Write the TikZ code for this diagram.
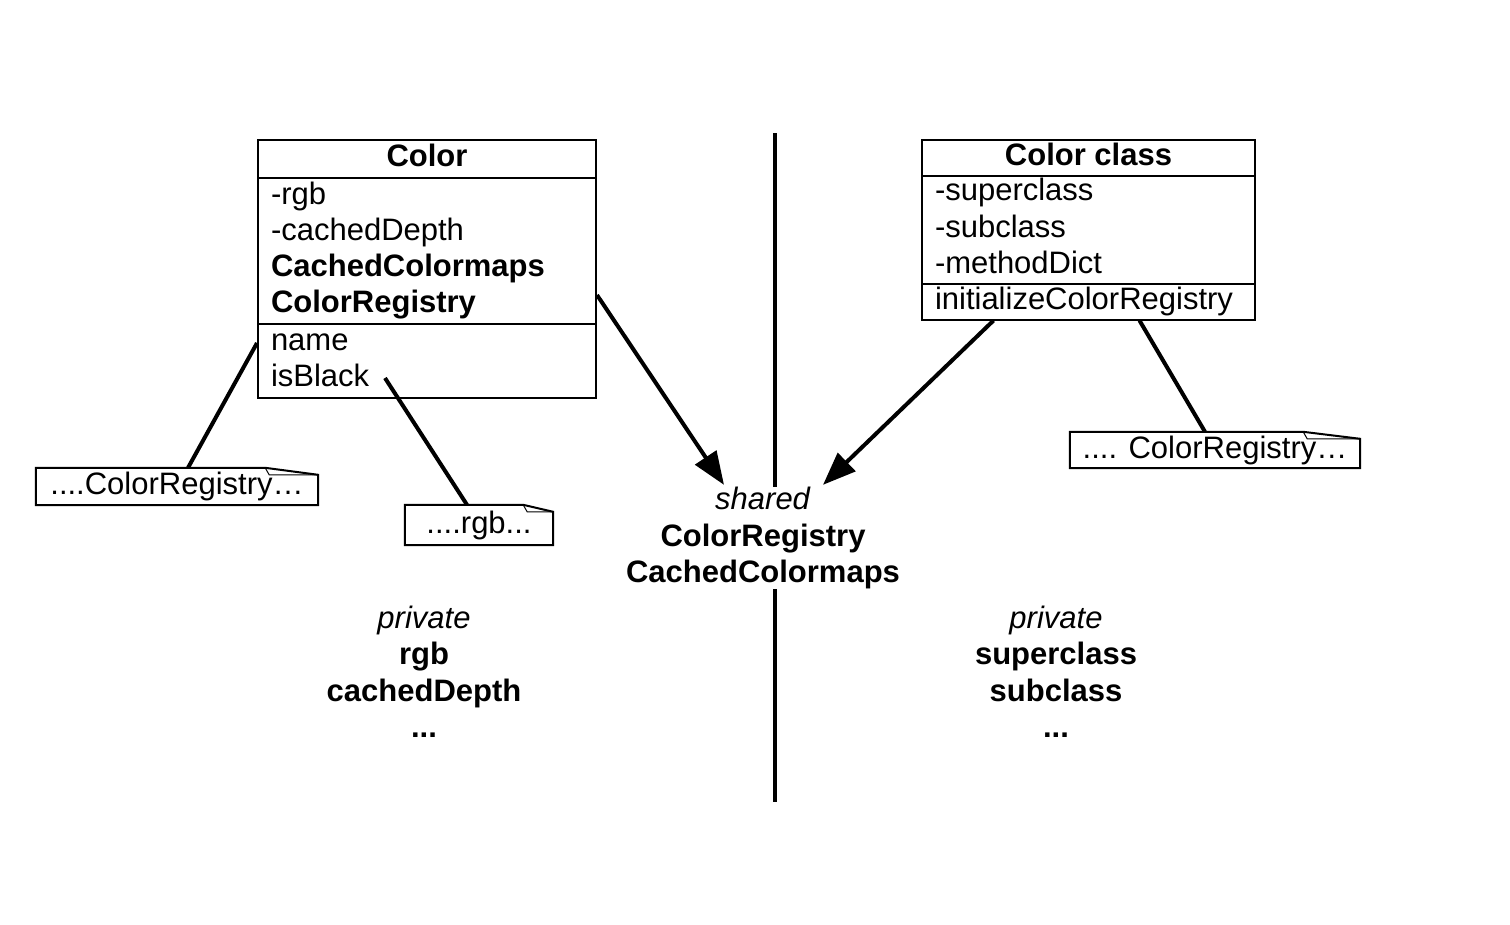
\documentclass[tikz,border=0pt]{standalone}
\usepackage{fontspec}
\setmainfont{Liberation Sans}
\usetikzlibrary{arrows.meta, shapes.multipart}

\begin{document}
\begin{tikzpicture}[
            x = 1pt, y = -1pt,
            > = {Triangle[length=33pt, width=25pt]},
            every node/.style = {font=\fontsize{31}{36.5}\selectfont},
            link/.style = {line width=4pt},
        ]

        \tikzstyle{umlclass}=[
            rectangle split,
            rectangle split parts = 3,
            rectangle split part align = {center, left, left},
            draw,
            line width = 2pt,
            align = left,
            inner xsep = 13pt,
            inner ysep = 0pt,
            font = \fontsize{31}{36}\selectfont
        ]
        \tikzstyle{note}=[
            minimum height = 37pt,
            inner sep = 0pt
        ]
        \tikzstyle{label}=[
            align = center,
            inner sep = 0pt
        ]

        \useasboundingbox (0,0) rectangle (1510,924);

        % the two classes
        \node[umlclass, minimum width=338pt, anchor=north] (color) at (427,139)
            {\strut\textbf{Color}
             \nodepart{two}\strut -rgb\\ -cachedDepth\\ \textbf{CachedColormaps}\\ \textbf{ColorRegistry}\strut
             \nodepart{three}\strut name\\ isBlack\strut};
        \node[umlclass, minimum width=333pt, inner ysep=-1.5pt, font=\fontsize{31}{36.5}\selectfont, anchor=north] (cls) at (1088.5,139)
            {\strut\textbf{Color class}
             \nodepart{two}\strut -superclass\\ -subclass\\ -methodDict\strut
             \nodepart{three}\strut initializeColorRegistry\strut};

        % notes
        \node[note, minimum width=282pt] (note1) at (177,486.5) {....ColorRegistry…};
        \node[note, minimum width=148pt, minimum height=40pt] (note2) at (479,525) {....rgb...};
        \node[note, minimum width=290pt, minimum height=36pt] (note3) at (1215,450) {.... ColorRegistry…};
        \foreach \n/\f in {note1/53, note2/30, note3/57} {
            \draw[line width=2pt] (\n.south west) -- (\n.north west)
                -- ([xshift=-\f pt]\n.north east) -- ([yshift=-7pt]\n.north east)
                -- (\n.south east) -- cycle;
            \draw[line width=1pt] ([xshift=-\f pt]\n.north east)
                -- ([xshift=-\f pt+4pt, yshift=-7pt]\n.north east)
                -- ([yshift=-7pt]\n.north east);
        }

        % shared and private
        \node[label] (shared) at (763,538)
            {\textit{shared}\\ \textbf{ColorRegistry}\\ \textbf{CachedColormaps}};
        \node[label] (privl) at (424,672)
            {\textit{private}\\ \textbf{rgb}\\ \textbf{cachedDepth}\\ \textbf{...}};
        \node[label] (privr) at (1056,672)
            {\textit{private}\\ \textbf{superclass}\\ \textbf{subclass}\\ \textbf{...}};

        % divider
        \coordinate (divtop) at (775,133);
        \coordinate (divbot) at (775,802);
        \draw[link] (divtop) -- (divtop |- shared.north);
        \draw[link] (divbot |- shared.south) -- (divbot);

        % connectors
        \coordinate (isblack) at (385,378);
        \draw[link] ([yshift=-19pt]color.two split west) -- ([xshift=11pt]note1.north);
        \draw[link] (isblack) -- ([xshift=-12pt]note2.north);
        \draw[link, ->] ([yshift=29pt]color.two split east) -- ([xshift=-39pt, yshift=2pt]shared.north);
        \draw[link, ->] ([xshift=-95pt]cls.south) -- ([xshift=60pt, yshift=2pt]shared.north);
        \draw[link] ([xshift=51pt]cls.south) -- ([xshift=-10pt]note3.north);
    \end{tikzpicture}
\end{document}
